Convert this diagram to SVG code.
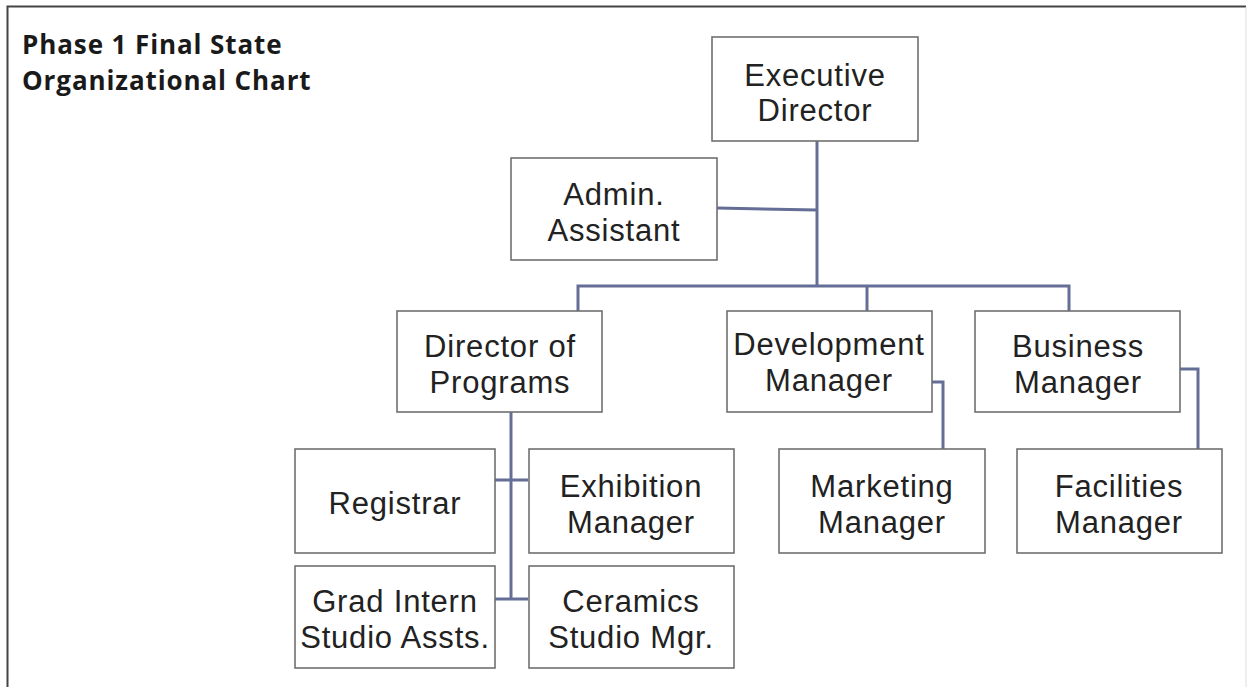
<svg xmlns="http://www.w3.org/2000/svg" width="1247" height="687" viewBox="0 0 1247 687">
  <style>
    .box { fill: #ffffff; stroke: #707070; stroke-width: 1.6; }
    .lbl { font-family: "Liberation Sans", Arial, sans-serif; font-size: 31px; letter-spacing: 0.8px; fill: #222222; text-anchor: middle; }
    .title { font-family: "Open Sans", "Liberation Sans", sans-serif; font-size: 26px; font-weight: bold; letter-spacing: 0.9px; fill: #1a1a1a; }
    .wire { fill: none; stroke: #646e96; stroke-width: 3; stroke-linejoin: miter; }
  </style>

  <!-- frame -->
  <rect x="0" y="0" width="1247" height="687" fill="#ffffff"/>
  <path d="M7.5 687 V6.5 H1246" fill="none" stroke="#444444" stroke-width="2"/>
  <line x1="1246" y1="7" x2="1246" y2="687" stroke="#dddddd" stroke-width="1"/>

  <text class="title" x="22" y="54">Phase 1 Final State</text>
  <text class="title" x="22" y="90">Organizational Chart</text>

  <!-- connectors -->
  <g id="connectors">
    <path class="wire" d="M817 141 V286"/>
    <path class="wire" d="M717 208 L817 210"/>
    <path class="wire" d="M578 311 V286 H1069 V311"/>
    <path class="wire" d="M867 286 V311"/>
    <path class="wire" d="M511 412 V599"/>
    <path class="wire" d="M495 480 H528"/>
    <path class="wire" d="M495 599 H528"/>
    <path class="wire" d="M932 382 H943 V449"/>
    <path class="wire" d="M1180 369 H1198 V449"/>
  </g>

  <g id="executive-director">
    <rect class="box" x="712" y="37" width="206" height="104"/>
    <text class="lbl" x="815" y="86">Executive</text>
    <text class="lbl" x="815" y="121">Director</text>
  </g>
  <g id="admin-assistant">
    <rect class="box" x="511" y="158" width="206" height="102"/>
    <text class="lbl" x="614" y="205">Admin.</text>
    <text class="lbl" x="614" y="241">Assistant</text>
  </g>
  <g id="director-of-programs">
    <rect class="box" x="397" y="311" width="205" height="101"/>
    <text class="lbl" x="500" y="357">Director of</text>
    <text class="lbl" x="500" y="393">Programs</text>
  </g>
  <g id="development-manager">
    <rect class="box" x="727" y="311" width="205" height="101"/>
    <text class="lbl" x="829" y="355">Development</text>
    <text class="lbl" x="829" y="391">Manager</text>
  </g>
  <g id="business-manager">
    <rect class="box" x="975" y="311" width="205" height="101"/>
    <text class="lbl" x="1078" y="357">Business</text>
    <text class="lbl" x="1078" y="393">Manager</text>
  </g>
  <g id="registrar">
    <rect class="box" x="295" y="449" width="200" height="104"/>
    <text class="lbl" x="395" y="514">Registrar</text>
  </g>
  <g id="exhibition-manager">
    <rect class="box" x="529" y="449" width="205" height="104"/>
    <text class="lbl" x="631" y="497">Exhibition</text>
    <text class="lbl" x="631" y="533">Manager</text>
  </g>
  <g id="marketing-manager">
    <rect class="box" x="779" y="449" width="206" height="104"/>
    <text class="lbl" x="882" y="497">Marketing</text>
    <text class="lbl" x="882" y="533">Manager</text>
  </g>
  <g id="facilities-manager">
    <rect class="box" x="1017" y="449" width="205" height="104"/>
    <text class="lbl" x="1119" y="497">Facilities</text>
    <text class="lbl" x="1119" y="533">Manager</text>
  </g>
  <g id="grad-intern">
    <rect class="box" x="295" y="566" width="200" height="102"/>
    <text class="lbl" x="395" y="612">Grad Intern</text>
    <text class="lbl" x="395" y="648">Studio Assts.</text>
  </g>
  <g id="ceramics-studio">
    <rect class="box" x="529" y="566" width="205" height="102"/>
    <text class="lbl" x="631" y="612">Ceramics</text>
    <text class="lbl" x="631" y="648">Studio Mgr.</text>
  </g>
</svg>
